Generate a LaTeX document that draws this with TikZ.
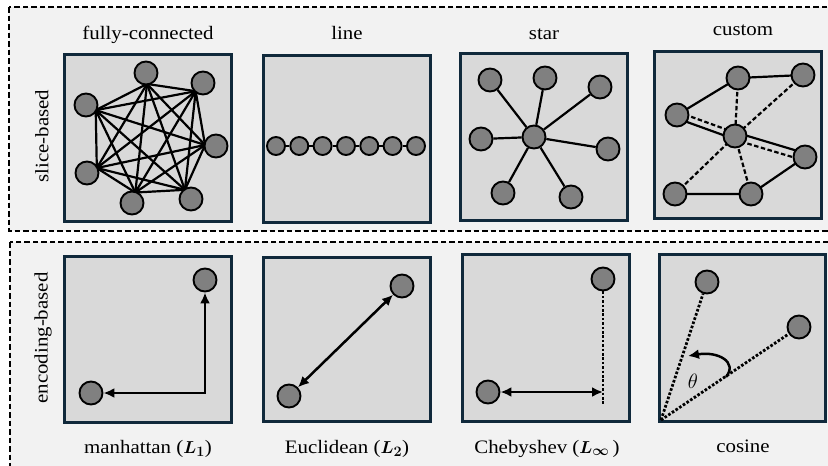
\documentclass[tikz,border=0pt]{standalone}
\usepackage{fontspec}
\setmainfont[FakeStretch=1.1]{Liberation Serif}
\usepackage{bm}
\usetikzlibrary{arrows.meta,calc}
\definecolor{navy}{HTML}{10293B}
\definecolor{panelgray}{HTML}{D9D9D9}
\definecolor{boxgray}{HTML}{F2F2F2}
\definecolor{nodegray}{HTML}{808080}
\pgfdeclarelayer{boxes}
\pgfdeclarelayer{edges}
\pgfsetlayers{boxes,edges,main}
\tikzset{
  vtx/.style={circle, draw=black, line width=1.9pt, fill=nodegray, minimum size=23pt, inner sep=0pt},
  svtx/.style={vtx, minimum size=18pt},
  edge/.style={line width=2.2pt, black},
  dedge/.style={line width=2.2pt, black, dash pattern=on 4.5pt off 2.5pt},
  dotline/.style={line width=2.8pt, black, dash pattern=on 2.6pt off 1.8pt},
  arr/.style={line width=2.5pt, black, {Latex[length=11pt,width=10pt]}-{Latex[length=11pt,width=10pt]}},
  sarr/.style={line width=2.5pt, black, -{Latex[length=11pt,width=10pt]}},
  panel/.style={draw=navy, line width=3.8pt, fill=panelgray},
  outerbox/.style={draw=black, line width=2.6pt, dash pattern=on 5.5pt off 3pt, fill=boxgray},
  lbl/.style={font=\fontsize{19}{22}\selectfont, anchor=base, inner sep=0pt},
}
\begin{document}
\begin{tikzpicture}[x=1pt,y=-1pt]
\clip (0,0) rectangle (828,466);
\begin{pgfonlayer}{boxes}
\fill[white] (0,0) rectangle (828,466);
\draw[outerbox] (9,7) rectangle (840,231);
\draw[outerbox] (10,242) rectangle (840,480);
% panels
\draw[panel] (64.5,54.5) rectangle (231.5,221.5);
\draw[panel] (263.5,55.5) rectangle (430.5,222.5);
\draw[panel] (460.5,53.5) rectangle (627.5,220.5);
\draw[panel] (654.5,51.5) rectangle (821.5,218.5);
\draw[panel] (64.5,256.5) rectangle (231.5,422.5);
\draw[panel] (263.5,257.5) rectangle (430.5,421.5);
\draw[panel] (462.5,254.5) rectangle (629.5,421.5);
\draw[panel] (659.5,254.5) rectangle (825.5,421.5);
\end{pgfonlayer}

% labels
\node[lbl] (t1) at (148,39) {fully-connected};
\node[lbl] (t2) at (347,39) {line};
\node[lbl] (t3) at (544,39) {star};
\node[lbl] (t4) at (743,35) {custom};
\node[lbl] (b1) at (148,453) {manhattan ($\bm{L_1}$)};
\node[lbl] (b2) at (347,453) {Euclidean ($\bm{L_2}$)};
\node[lbl] (b3) at (547,453) {Chebyshev ($\bm{L}_{\bm{\infty}}$\,)};
\node[lbl] (b4) at (743,452) {cosine};
\node[font=\fontsize{19}{22}\selectfont, rotate=90] (s1) at (42,136) {slice-based};
\node[font=\fontsize{19}{22}\selectfont, rotate=90] (s2) at (43,338) {encoding-based};

% fully-connected
\foreach \n/\x/\y in {1/146/73,2/203/83,3/216/146,4/191/199,5/132/203,6/87/173,7/86/105}
  \node[vtx] (f\n) at (\x,\y) {};
\coordinate (fc) at (152,140);
\foreach \n in {1,...,7}
  \coordinate (fp\n) at ($(f\n.center)!11pt!(fc)$);
\begin{pgfonlayer}{edges}
\foreach \a in {1,...,6}{
  \pgfmathtruncatemacro\s{\a+1}
  \foreach \b in {\s,...,7}
    \draw[edge] (fp\a) -- (fp\b);
}
\end{pgfonlayer}

% line
\foreach \n/\x in {1/276,2/299.3,3/322.6,4/346,5/369.3,6/392.6,7/416}
  \node[svtx] (l\n) at (\x,146) {};
\foreach \a/\b in {1/2,2/3,3/4,4/5,5/6,6/7}
  \draw[edge] (l\a) -- (l\b);

% star
\node[vtx] (s0) at (534,137) {};
\foreach \n/\x/\y in {1/490/80,2/545/78,3/600/87,4/481/139,5/608/149,6/503/193,7/571/197}{
  \node[vtx] (s\n) at (\x,\y) {};
  \draw[edge] (s0) -- (s\n);
}

% custom
\node[vtx] (cA) at (738,78) {};
\node[vtx] (cB) at (803,75) {};
\node[vtx] (cC) at (677,115) {};
\node[vtx] (cD) at (735,136) {};
\node[vtx] (cE) at (805,157) {};
\node[vtx] (cF) at (675,194) {};
\node[vtx] (cG) at (751,194) {};
\begin{pgfonlayer}{edges}
\draw[edge] (cC.center) -- (cA.center) -- (cB.center);
\draw[edge] (cF.center) -- (cG.center) -- (cE.center);
\draw[dedge] (cA.center) -- (cD.center);
\draw[dedge] (cB.center) -- (cD.center);
\draw[dedge] (cF.center) -- (cD.center);
\draw[dedge] (cG.center) -- (cD.center);
\draw[dedge] ([shift={(1,-3)}]cC.center) -- ([shift={(1,-3)}]cD.center);
\draw[edge] ([shift={(-1,3)}]cC.center) -- ([shift={(-1,3)}]cD.center);
\draw[edge] ([shift={(1,-3.5)}]cD.center) -- ([shift={(1,-3.5)}]cE.center);
\draw[dedge] ([shift={(-1,3.5)}]cD.center) -- ([shift={(-1,3.5)}]cE.center);
\end{pgfonlayer}

% manhattan
\node[vtx] (m1) at (205,280) {};
\node[vtx] (m2) at (91,393) {};
\draw[arr] (m2) -| (m1);

% Euclidean
\node[vtx] (e1) at (402,286) {};
\node[vtx] (e2) at (289,396) {};
\draw[arr] (e2) -- (e1);

% Chebyshev
\node[vtx] (c1) at (603,279) {};
\node[vtx] (c2) at (488,392) {};
\coordinate (cbot) at (603,404);
\coordinate (cmid) at (603,392);
\draw[dotline] (c1) -- (cbot);
\draw[arr] (c2) -- (cmid);

% cosine
\node[vtx] (o1) at (707,282) {};
\node[vtx] (o2) at (799,327) {};
\coordinate (org) at (661,420);
\draw[dotline] (org) -- (o1);
\draw[dotline] (org) -- (o2);
\coordinate (aS) at (726,377);
\coordinate (aE) at (688,356);
\draw[sarr] (aS) .. controls (738,362) and (718,351) .. (aE);
\node[font=\fontsize{22}{24}\selectfont] (th) at (693,381) {$\theta$};
\end{tikzpicture}
\end{document}
